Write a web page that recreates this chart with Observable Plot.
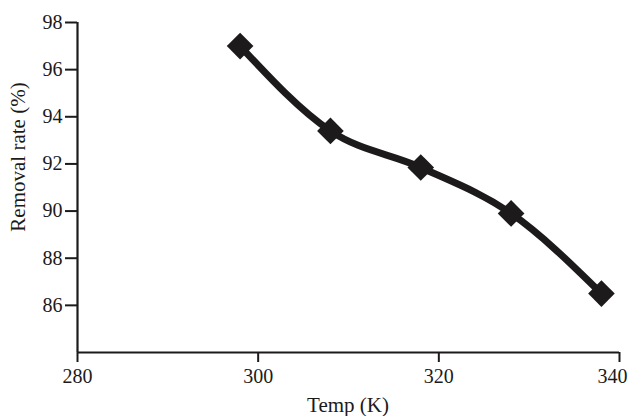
<!DOCTYPE html>
<html>
<head>
<meta charset="utf-8">
<script src="https://cdn.jsdelivr.net/npm/d3@7"></script>
<script src="https://cdn.jsdelivr.net/npm/@observablehq/plot@0.6"></script>
<style>
  html, body { margin: 0; padding: 0; background: #fff; }
  #chart { width: 629px; height: 416px; }
</style>
</head>
<body>
<div id="chart"></div>
<script>
const temps = [298, 308, 318, 328, 338];
const removal = [97.0, 93.4, 91.85, 89.9, 86.5];
const xTicks = [280, 300, 320, 340];
const yTicks = [86, 88, 90, 92, 94, 96, 98];
const xTitle = "Temp (K)";
const yTitle = "Removal rate (%)";

const data = temps.map((t, i) => ({temp: t, rate: removal[i]}));
const ink = "#1c1a1a";
const font = "'Liberation Serif', 'Times New Roman', serif";

const chart = Plot.plot({
  width: 629,
  height: 416,
  marginLeft: 77,
  marginRight: 10,
  marginTop: 22,
  marginBottom: 64,
  style: {fontFamily: font, fontSize: "20px", color: ink, background: "#fff"},
  x: {domain: [280, 340]},
  y: {domain: [84, 98]},
  marks: [
    Plot.axisX({ticks: xTicks, tickSize: 10, tickPadding: 6, stroke: ink, strokeWidth: 2, fill: ink, label: null, fontSize: 20}),
    Plot.axisY({ticks: yTicks, tickSize: 12, tickPadding: 3, stroke: ink, strokeWidth: 2, fill: ink, label: null, fontSize: 20}),
    Plot.ruleX([280], {stroke: ink, strokeWidth: 2.2}),
    Plot.ruleY([84], {stroke: ink, strokeWidth: 2.2}),
    Plot.line(data, {x: "temp", y: "rate", stroke: ink, strokeWidth: 7, curve: "monotone-x"}),
    Plot.dot(data, {x: "temp", y: "rate", symbol: "diamond2", r: 12, fill: ink, stroke: null})
  ]
});

document.getElementById("chart").appendChild(chart);

const svg = d3.select(chart);
// shift last x tick label so it fits, as in the reference
const xLabels = svg.selectAll("g[aria-label='x-axis tick label'] text");
xLabels.filter((d, i, n) => i === n.length - 1).attr("text-anchor", "end").attr("dx", 8);

svg.append("text")
  .attr("transform", "translate(25,157) rotate(-90)")
  .attr("text-anchor", "middle")
  .attr("font-family", font)
  .attr("font-size", 21)
  .attr("fill", ink)
  .text(yTitle);

svg.append("text")
  .attr("x", 348)
  .attr("y", 412)
  .attr("text-anchor", "middle")
  .attr("font-family", font)
  .attr("font-size", 21)
  .attr("fill", ink)
  .text(xTitle);
</script>
</body>
</html>
